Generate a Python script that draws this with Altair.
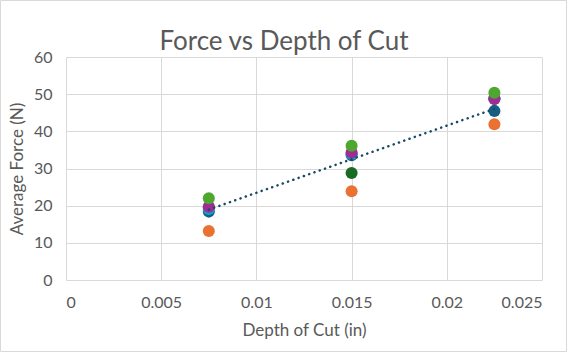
import altair as alt
import pandas as pd

depth = [0.0075, 0.015, 0.0225]
series_names = ["S1", "S2", "S3", "S4", "S5", "S6"]
series_colors = ["#156082", "#E97132", "#196B24", "#0F9ED5", "#A02B93", "#4EA72E"]
s1 = [18.4, 33.6, 45.5]
s2 = [13.2, 23.9, 41.9]
s3 = [19.5, 28.8, 48.8]
s4 = [19.1, 33.9, 48.9]
s5 = [19.7, 34.3, 48.7]
s6 = [22.0, 36.1, 50.4]
all_series = [s1, s2, s3, s4, s5, s6]
x_ticks = [0, 0.005, 0.01, 0.015, 0.02, 0.025]
y_ticks = [0, 10, 20, 30, 40, 50, 60]

rows = []
for i, (name, vals) in enumerate(zip(series_names, all_series)):
    for d, v in zip(depth, vals):
        rows.append({"series": name, "order": i, "depth": d, "force": v})
df = pd.DataFrame(rows)

FONT = "Lato"
GRAY = "#595959"

x = alt.X("depth:Q", scale=alt.Scale(domain=[0, 0.025], nice=False),
          axis=alt.Axis(values=x_ticks, format="~g",
                        title="Depth of Cut (in)", grid=True, ticks=False, domain=False,
                        labelPadding=14, titlePadding=12))
y = alt.Y("force:Q", scale=alt.Scale(domain=[0, 60], nice=False),
          axis=alt.Axis(values=y_ticks, tickCount=7, title="Average Force (N)",
                        grid=True, ticks=False, domain=False, labelPadding=14, titlePadding=7))

points = alt.Chart(df).mark_circle(size=145, opacity=1).encode(
    x=x, y=y,
    color=alt.Color("series:N", scale=alt.Scale(domain=series_names, range=series_colors), legend=None),
    order=alt.Order("order:Q"),
)

trend = alt.Chart(df).transform_filter(alt.datum.series == "S1").transform_regression(
    "depth", "force"
).mark_line(color="#174a66", strokeWidth=2.5, strokeDash=[0.1, 5.5], strokeCap="round").encode(
    x=x, y=y
)

frame = alt.Chart(pd.DataFrame({"a": [0]})).mark_rect(
    fill=None, stroke="#d9d9d9", strokeWidth=1
).encode(
    x=alt.value(-65.5), x2=alt.value(476 + 24.5),
    y=alt.value(-56.5), y2=alt.value(223 + 71.5),
)

chart = alt.layer(points, trend, frame).properties(
    width=476, height=223,
    background="white",
    title=alt.TitleParams("Force vs Depth of Cut", fontSize=26, font=FONT, color=GRAY,
                          fontWeight="normal", anchor="middle", dx=-20, dy=57, offset=2),
    padding={"left": 66, "top": 57, "right": 25, "bottom": 72},
    autosize=alt.AutoSizeParams(type="none"),
).configure_view(stroke=None).configure_axis(
    labelFont=FONT, titleFont=FONT, labelFontSize=16, titleFontSize=17,
    labelColor=GRAY, titleColor=GRAY, titleFontWeight="normal", gridColor="#d9d9d9",
)

chart.save("out.html", embed_options={"renderer": "svg", "actions": False})
